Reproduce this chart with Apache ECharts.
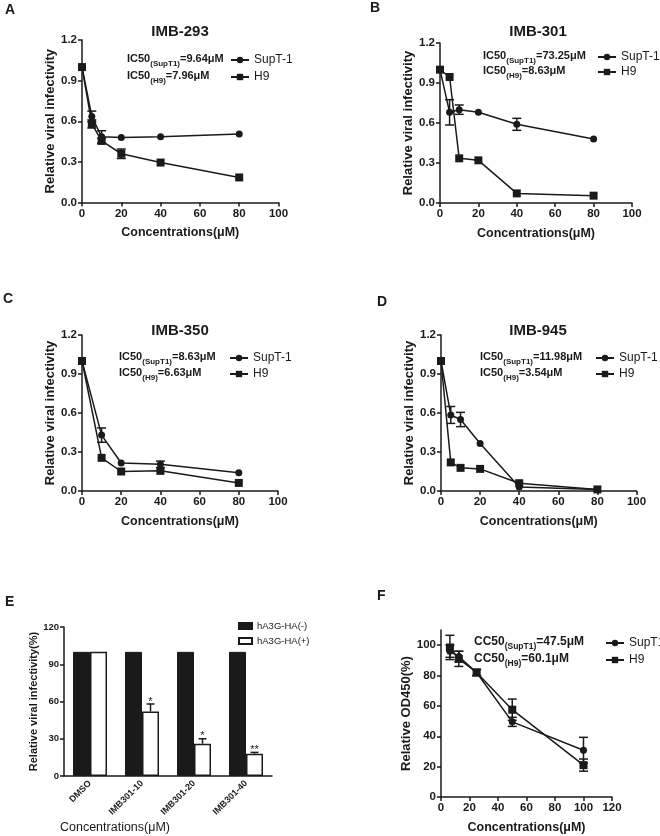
<!DOCTYPE html>
<html><head><meta charset="utf-8">
<script src="https://cdn.jsdelivr.net/npm/echarts@6/dist/echarts.min.js"></script>
<style>html,body{margin:0;padding:0;background:#fff}#c{width:660px;height:836px}</style>
</head><body><div id="c"></div>
<script>
const FONT = '"Liberation Sans", Arial, Helvetica, sans-serif';
const INK = '#1a1a1a';

// ---- Panel A: IMB-293 ----
const concA = [0, 5, 10, 20, 40, 80];
const suptA = [1.0, 0.635, 0.485, 0.48, 0.485, 0.505];
const suptAErr = [0, 0.04, 0.045, 0, 0, 0];
const h9A = [1.0, 0.58, 0.455, 0.36, 0.295, 0.185];
const h9AErr = [0, 0.03, 0.02, 0.035, 0, 0];

// ---- Panel B: IMB-301 ----
const concB = [0, 5, 10, 20, 40, 80];
const suptB = [1.0, 0.68, 0.70, 0.68, 0.59, 0.48];
const suptBErr = [0, 0.095, 0.035, 0, 0.045, 0];
const h9B = [1.0, 0.945, 0.335, 0.32, 0.072, 0.055];
const h9BErr = [0, 0, 0, 0, 0, 0];

// ---- Panel C: IMB-350 ----
const concC = [0, 10, 20, 40, 80];
const suptC = [1.0, 0.43, 0.215, 0.205, 0.14];
const suptCErr = [0, 0.055, 0, 0.025, 0];
const h9C = [1.0, 0.255, 0.15, 0.155, 0.062];
const h9CErr = [0, 0, 0, 0, 0];

// ---- Panel D: IMB-945 ----
const concD = [0, 5, 10, 20, 40, 80];
const suptD = [1.0, 0.585, 0.55, 0.365, 0.03, 0.012];
const suptDErr = [0, 0.065, 0.055, 0, 0, 0];
const h9D = [1.0, 0.22, 0.178, 0.17, 0.06, 0.012];
const h9DErr = [0, 0, 0, 0, 0, 0];

// ---- Panel E: bars ----
const catsE = ['DMSO', 'IMB301-10', 'IMB301-20', 'IMB301-40'];
const negE = [100, 100, 100, 100];
const posE = [100, 52, 26, 18];
const posEErr = [0, 6, 4, 1];
const starsE = ['', '*', '*', '**'];

// ---- Panel F: cytotoxicity ----
const concF = [6.25, 12.5, 25, 50, 100];
const suptF = [96, 92.5, 82, 49.5, 30.8];
const suptFErr = [4, 3.5, 2, 3, 8.5];
const h9F = [98.5, 91, 82, 57.5, 21];
const h9FErr = [8, 5, 2, 7, 4];

// tick labels
const ticksInf = [0, 0.3, 0.6, 0.9, 1.2];
const ticksConc = [0, 20, 40, 60, 80, 100];
const ticksConcF = [0, 20, 40, 60, 80, 100, 120];
const ticksPct = [0, 30, 60, 90, 120];
const ticksOD = [0, 20, 40, 60, 80, 100];

const BAR_W = 17;

function errRender(params, api) {
  const e = api.value(3);
  if (!e) return {type: 'group', children: []};
  const x = api.value(0);
  const lo = api.coord([x, api.value(1)]);
  const hi = api.coord([x, api.value(2)]);
  const w = 4.5;
  const st = {stroke: INK, lineWidth: 1.5};
  return {type: 'group', children: [
    {type: 'line', shape: {x1: lo[0], y1: lo[1], x2: hi[0], y2: hi[1]}, style: st},
    {type: 'line', shape: {x1: lo[0] - w, y1: lo[1], x2: lo[0] + w, y2: lo[1]}, style: st},
    {type: 'line', shape: {x1: hi[0] - w, y1: hi[1], x2: hi[0] + w, y2: hi[1]}, style: st}
  ]};
}
function lineS(name, sym, xs, ys, gi) {
  return {type: 'line', name: name, xAxisIndex: gi, yAxisIndex: gi,
    data: xs.map((x, i) => [x, ys[i]]), symbol: sym, symbolSize: sym === 'rect' ? 8 : 7,
    lineStyle: {color: INK, width: 1.5}, itemStyle: {color: INK}, z: 3, silent: true};
}
function errS(xs, ys, es, gi) {
  return {type: 'custom', name: 'err' + gi, xAxisIndex: gi, yAxisIndex: gi,
    data: xs.map((x, i) => [x, ys[i] - es[i], ys[i] + es[i], es[i]]),
    encode: {x: 0, y: [1, 2]}, renderItem: errRender, z: 2, silent: true};
}
function barErrRender(params, api) {
  const i = api.value(0);
  const top = api.coord([i, api.value(1)]);
  const hi = api.coord([i, api.value(2)]);
  const cx = top[0] + BAR_W / 2;
  const w = 4;
  const st = {stroke: INK, lineWidth: 1.5};
  const ch = [];
  if (api.value(3) > 0) {
    ch.push({type: 'line', shape: {x1: cx, y1: top[1], x2: cx, y2: hi[1]}, style: st});
    ch.push({type: 'line', shape: {x1: cx - w, y1: hi[1], x2: cx + w, y2: hi[1]}, style: st});
  }
  const s = starsE[params.dataIndex];
  if (s) ch.push({type: 'text', style: {text: s, x: cx, y: hi[1] + 3, align: 'center', verticalAlign: 'bottom',
    fontSize: 11, fontFamily: FONT, fill: INK}});
  return {type: 'group', children: ch};
}

const axisLine = {show: true, lineStyle: {color: INK, width: 1.5}};
const axisTick = (vals) => ({show: true, inside: false, length: 4, lineStyle: {color: INK, width: 1.5}, customValues: vals});
const labelStyle = (size, bold) => ({color: INK, fontFamily: FONT, fontSize: size, fontWeight: bold ? 'bold' : 'normal'});

function xVal(gi, max, ticks) {
  return {type: 'value', gridIndex: gi, min: 0, max: max, interval: 20, splitLine: {show: false},
    axisLine: axisLine, axisTick: axisTick(ticks),
    axisLabel: Object.assign({margin: 5, customValues: ticks}, labelStyle(11.5, true)),
    name: 'Concentrations(μM)', nameLocation: 'middle', nameGap: 24,
    nameTextStyle: labelStyle(12.5, true)};
}
function yInf(gi) {
  return {type: 'value', gridIndex: gi, min: 0, max: 1.2, interval: 0.3, splitLine: {show: false},
    axisLine: axisLine, axisTick: axisTick(ticksInf),
    axisLabel: Object.assign({margin: 5, customValues: ticksInf, formatter: v => v.toFixed(1)}, labelStyle(11.5, true)),
    name: 'Relative viral infectivity', nameLocation: 'middle', nameGap: 25,
    nameTextStyle: labelStyle(13, true)};
}

function legendLine(names, left, top, gap) {
  return {data: names, orient: 'vertical', left: left, top: top, itemGap: gap, itemWidth: 18, itemHeight: 8,
    selectedMode: false, textStyle: labelStyle(12, false), padding: 0};
}

function icText(label, sub, val, x, y, size, subSize) {
  return {type: 'text', x: x, y: y, style: {
    text: '{m|' + label + '}{s|(' + sub + ')}{m|=' + val + '}',
    fill: INK, verticalAlign: 'middle', align: 'left',
    rich: {
      m: {fontSize: size, fontWeight: 'bold', fontFamily: FONT, fill: INK, verticalAlign: 'top', lineHeight: size + 2},
      s: {fontSize: subSize, fontWeight: 'bold', fontFamily: FONT, fill: INK, verticalAlign: 'top', lineHeight: subSize, padding: [size - subSize + 3, 0, 0, 0]}
    }}};
}
function txt(t, x, y, size, bold, align) {
  return {type: 'text', x: x, y: y, style: {text: t, fill: INK, fontFamily: FONT, fontSize: size,
    fontWeight: bold ? 'bold' : 'normal', align: align || 'center', verticalAlign: 'middle'}};
}

const option = {
  animation: false,
  backgroundColor: '#fff',
  textStyle: {fontFamily: FONT},
  grid: [
    {left: 82, top: 40, width: 196.5, height: 162.5, outerBoundsMode: 'none'},
    {left: 440, top: 43, width: 192, height: 160, outerBoundsMode: 'none'},
    {left: 82, top: 335, width: 196, height: 156, outerBoundsMode: 'none'},
    {left: 441, top: 335, width: 195.5, height: 156, outerBoundsMode: 'none'},
    {left: 64, top: 627, width: 208, height: 149, outerBoundsMode: 'none'},
    {left: 441, top: 630, width: 171, height: 167, outerBoundsMode: 'none'}
  ],
  xAxis: [
    xVal(0, 100, ticksConc), xVal(1, 100, ticksConc), xVal(2, 100, ticksConc), xVal(3, 100, ticksConc),
    {type: 'category', gridIndex: 4, data: catsE, axisLine: axisLine, axisTick: {show: false},
      axisLabel: Object.assign({rotate: 45, margin: 6, interval: 0}, labelStyle(9, true))},
    xVal(5, 120, ticksConcF)
  ],
  yAxis: [
    yInf(0), yInf(1), yInf(2), yInf(3),
    {type: 'value', gridIndex: 4, min: 0, max: 120, interval: 30, splitLine: {show: false},
      axisLine: axisLine, axisTick: axisTick(ticksPct),
      axisLabel: Object.assign({margin: 5, customValues: ticksPct}, labelStyle(9.5, true)),
      name: 'Relative viral infectivity(%)', nameLocation: 'middle', nameGap: 21,
      nameTextStyle: labelStyle(11, true)},
    {type: 'value', gridIndex: 5, min: 0, max: 110, interval: 20, splitLine: {show: false},
      axisLine: axisLine, axisTick: axisTick(ticksOD),
      axisLabel: Object.assign({margin: 5, customValues: ticksOD}, labelStyle(11.5, true)),
      name: 'Relative OD450(%)', nameLocation: 'middle', nameGap: 22,
      nameTextStyle: labelStyle(13, true)}
  ],
  legend: [
    legendLine(['SupT-1', 'H9'], 230, 54, 5),
    legendLine(['SupT-1', 'H9'], 597, 51, 3),
    legendLine(['SupT-1', 'H9'], 229, 352, 4),
    legendLine(['SupT-1', 'H9'], 595, 352, 4),
    {data: ['hA3G-HA(-)', 'hA3G-HA(+)'], orient: 'vertical', left: 238, top: 621, itemGap: 5, icon: 'rect',
      itemWidth: 13, itemHeight: 6, selectedMode: false, padding: 0, textStyle: labelStyle(9.5, false)},
    legendLine(['SupT1', 'H9'], 605, 637, 5)
  ],
  series: [
    errS(concA, suptA, suptAErr, 0), errS(concA, h9A, h9AErr, 0),
    lineS('SupT-1', 'circle', concA, suptA, 0), lineS('H9', 'rect', concA, h9A, 0),
    errS(concB, suptB, suptBErr, 1), errS(concB, h9B, h9BErr, 1),
    lineS('SupT-1', 'circle', concB, suptB, 1), lineS('H9', 'rect', concB, h9B, 1),
    errS(concC, suptC, suptCErr, 2), errS(concC, h9C, h9CErr, 2),
    lineS('SupT-1', 'circle', concC, suptC, 2), lineS('H9', 'rect', concC, h9C, 2),
    errS(concD, suptD, suptDErr, 3), errS(concD, h9D, h9DErr, 3),
    lineS('SupT-1', 'circle', concD, suptD, 3), lineS('H9', 'rect', concD, h9D, 3),
    {type: 'bar', name: 'hA3G-HA(-)', xAxisIndex: 4, yAxisIndex: 4, data: negE, barWidth: BAR_W, barGap: '0%',
      itemStyle: {color: INK, borderColor: INK, borderWidth: 1}, silent: true},
    {type: 'bar', name: 'hA3G-HA(+)', xAxisIndex: 4, yAxisIndex: 4, data: posE, barWidth: BAR_W, barGap: '0%',
      itemStyle: {color: '#fff', borderColor: INK, borderWidth: 1.5}, silent: true},
    {type: 'custom', name: 'errE', xAxisIndex: 4, yAxisIndex: 4,
      data: catsE.map((c, i) => [i, posE[i], posE[i] + posEErr[i], posEErr[i]]),
      encode: {x: 0, y: [1, 2]}, renderItem: barErrRender, z: 4, silent: true},
    errS(concF, suptF, suptFErr, 5), errS(concF, h9F, h9FErr, 5),
    lineS('SupT1', 'circle', concF, suptF, 5), lineS('H9', 'rect', concF, h9F, 5)
  ],
  graphic: [
    txt('A', 5, 10, 14, true, 'left'),
    txt('B', 370, 8, 14, true, 'left'),
    txt('C', 3, 299, 14, true, 'left'),
    txt('D', 377, 302, 14, true, 'left'),
    txt('E', 5, 602, 14, true, 'left'),
    txt('F', 377, 596, 14, true, 'left'),
    txt('IMB-293', 180, 32, 15, true),
    txt('IMB-301', 538, 32, 15, true),
    txt('IMB-350', 180, 331, 15, true),
    txt('IMB-945', 538, 331, 15, true),
    icText('IC50', 'SupT1', '9.64μM', 127, 60, 11, 8),
    icText('IC50', 'H9', '7.96μM', 127, 77, 11, 8),
    icText('IC50', 'SupT1', '73.25μM', 483, 57, 11, 8),
    icText('IC50', 'H9', '8.63μM', 483, 72, 11, 8),
    icText('IC50', 'SupT1', '8.63μM', 119, 358, 11, 8),
    icText('IC50', 'H9', '6.63μM', 119, 374, 11, 8),
    icText('IC50', 'SupT1', '11.98μM', 480, 358, 11, 8),
    icText('IC50', 'H9', '3.54μM', 480, 374, 11, 8),
    icText('CC50', 'SupT1', '47.5μM', 474, 643, 12, 8.5),
    icText('CC50', 'H9', '60.1μM', 474, 660, 12, 8.5),
    txt('Concentrations(μM)', 115, 828, 12.5, false)
  ]
};

const chart = echarts.init(document.getElementById('c'), null, {renderer: 'canvas', width: 660, height: 836});
chart.setOption(option);
</script></body></html>
